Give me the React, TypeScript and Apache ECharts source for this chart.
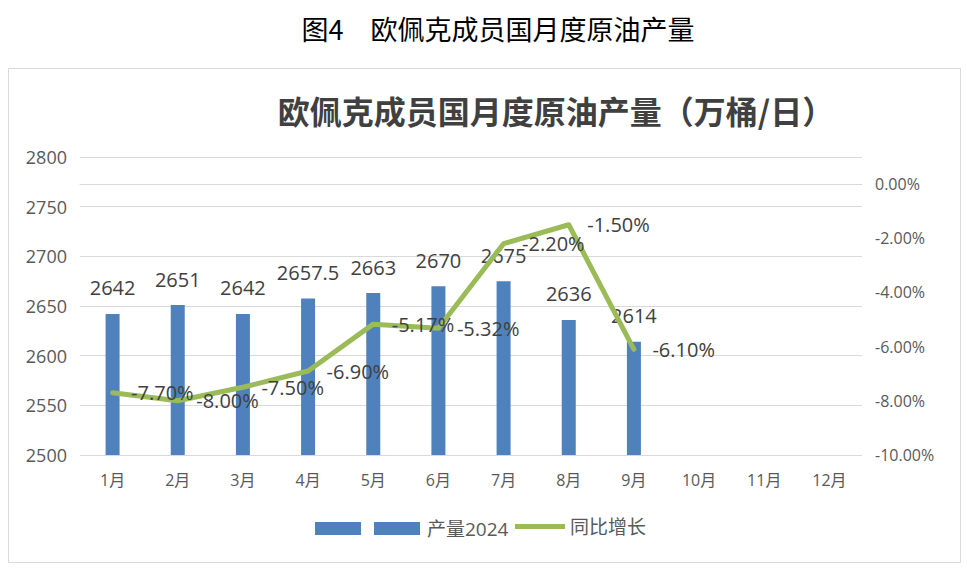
import React, { useEffect, useRef } from "react";
import * as echarts from "echarts";

const categories = ["1月", "2月", "3月", "4月", "5月", "6月", "7月", "8月", "9月", "10月", "11月", "12月"];
const production = [2642, 2651, 2642, 2657.5, 2663, 2670, 2675, 2636, 2614, null, null, null];
const yoyGrowth = [-7.7, -8.0, -7.5, -6.9, -5.17, -5.32, -2.2, -1.5, -6.1, null, null, null];
const leftAxisTicks = { min: 2500, max: 2800, interval: 50 };
const rightAxisTicks = { min: -10, max: 1, interval: 2 };

const FONT = "'Open Sans', 'Noto Sans CJK SC', sans-serif";

export default function App() {
  const ref = useRef<HTMLDivElement>(null);
  useEffect(() => {
    if (!ref.current) return;
    const chart = echarts.init(ref.current, undefined, { renderer: "svg" });
    chart.setOption({
      animation: false,
      backgroundColor: "#ffffff",
      textStyle: { fontFamily: FONT },
      graphic: [
        {
          type: "text",
          x: 498,
          y: 28,
          style: {
            text: "图4　欧佩克成员国月度原油产量",
            fontSize: 27,
            fill: "#000000",
            fontFamily: "'Noto Sans CJK SC', sans-serif",
            textAlign: "center",
            textVerticalAlign: "middle",
          },
        },
        {
          type: "rect",
          shape: { x: 8.5, y: 68.5, width: 952, height: 494 },
          style: { fill: "none", stroke: "#d9d9d9", lineWidth: 1 },
        },
        {
          type: "text",
          x: 556,
          y: 110,
          style: {
            text: "欧佩克成员国月度原油产量（万桶/日）",
            fontSize: 32,
            fontWeight: "bold",
            fill: "#404040",
            fontFamily: "'Noto Sans CJK SC', sans-serif",
            textAlign: "center",
            textVerticalAlign: "middle",
          },
        },
      ],
      legend: [
        {
          left: 315,
          top: 519,
          padding: 0,
          itemWidth: 105,
          itemHeight: 13,
          itemGap: 5,
          data: [
            {
              name: "产量2024",
              icon: "path://M0,0h46v13h-46z M59,0h46v13h-46z",
            },
          ],
          textStyle: { fontSize: 19, color: "#595959", fontFamily: FONT, padding: [0, 0, 0, 2] },
        },
        {
          left: 515,
          top: 517,
          padding: 0,
          itemWidth: 50,
          itemHeight: 17,
          data: [{ name: "同比增长", icon: "path://M0,0h50v5h-50z" }],
          textStyle: { fontSize: 19, color: "#595959", fontFamily: FONT },
        },
      ],
      grid: { left: 80, right: 105, top: 157, bottom: 115 },
      xAxis: {
        type: "category",
        data: categories,
        axisLine: { show: true, lineStyle: { color: "#d9d9d9", width: 1 } },
        axisTick: { show: false },
        axisLabel: { fontSize: 16, color: "#595959", margin: 17, fontFamily: FONT },
      },
      yAxis: [
        {
          type: "value",
          min: leftAxisTicks.min,
          max: leftAxisTicks.max,
          interval: leftAxisTicks.interval,
          axisLine: { show: false },
          axisTick: { show: false },
          splitLine: { show: true, lineStyle: { color: "#d9d9d9", width: 1 } },
          axisLabel: {
            fontSize: 18,
            color: "#595959",
            margin: 13,
            fontFamily: FONT,
            formatter: (v: number) => String(v),
          },
        },
        {
          type: "value",
          min: rightAxisTicks.min,
          max: rightAxisTicks.max,
          interval: rightAxisTicks.interval,
          position: "right",
          axisLine: { show: false },
          axisTick: { show: false },
          splitLine: { show: false },
          axisLabel: {
            fontSize: 16,
            color: "#595959",
            margin: 13,
            fontFamily: FONT,
            formatter: (v: number) => (v > 0.0001 ? "" : v.toFixed(2) + "%"),
          },
        },
      ],
      series: [
        {
          name: "产量2024",
          type: "bar",
          data: production,
          barWidth: 14,
          itemStyle: { color: "#4f81bd" },
          label: {
            show: true,
            position: "top",
            distance: 16,
            fontSize: 20,
            color: "#404040",
            fontFamily: FONT,
          },
        },
        {
          name: "同比增长",
          type: "line",
          yAxisIndex: 1,
          data: yoyGrowth,
          symbol: "circle",
          symbolSize: 1,
          showSymbol: true,
          itemStyle: { color: "#9bbb59" },
          lineStyle: { color: "#9bbb59", width: 5, join: "round", cap: "round" },
          label: {
            show: true,
            position: "right",
            distance: 18,
            fontSize: 20,
            color: "#404040",
            fontFamily: FONT,
            formatter: (p: any) => (p.value == null ? "" : Number(p.value).toFixed(2) + "%"),
          },
        },
      ],
    });
    return () => chart.dispose();
  }, []);
  return (
    <div
      ref={ref}
      style={{ position: "fixed", left: 0, top: 0, width: 967, height: 570 }}
    />
  );
}
